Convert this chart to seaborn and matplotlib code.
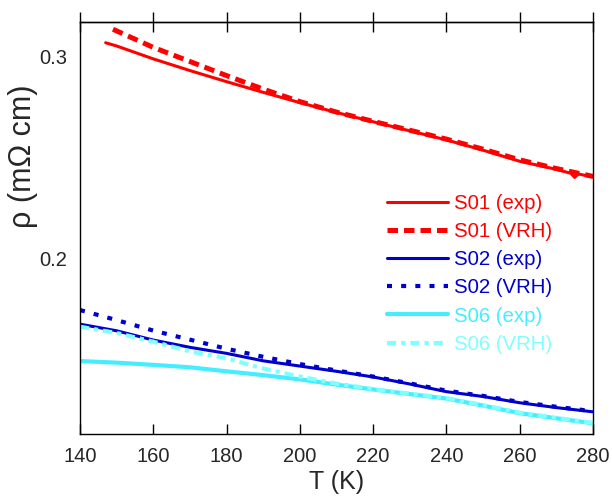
import numpy as np
import pandas as pd
import matplotlib
matplotlib.use("Agg")
import matplotlib.pyplot as plt
import seaborn as sns

# ---- data ----
T_S01_exp = [147, 150, 160, 170, 180, 190, 200, 210, 220, 230, 240, 250, 260, 270, 274, 275, 276, 280]
S01_exp = [0.3068, 0.3052, 0.2988, 0.2930, 0.2875, 0.2822, 0.2771, 0.2722, 0.2676, 0.2631,
           0.2586, 0.2535, 0.2480, 0.2440, 0.2420, 0.2400, 0.2417, 0.2402]
T_S01_vrh = [149, 160, 170, 180, 190, 200, 210, 220, 230, 240, 250, 260, 270, 280]
S01_vrh = [0.3135, 0.3045, 0.2975, 0.2905, 0.2838, 0.2776, 0.2724, 0.2678, 0.2634, 0.2590,
           0.2540, 0.2487, 0.2444, 0.2405]

T_grid = [140, 150, 160, 170, 180, 190, 200, 210, 220, 230, 240, 250, 260, 270, 280]
S02_exp = [0.1672, 0.1639, 0.1593, 0.1557, 0.1527, 0.1490, 0.1464, 0.1438, 0.1410, 0.1375,
           0.1337, 0.1313, 0.1282, 0.1258, 0.1237]
S02_vrh = [0.1742, 0.1692, 0.1640, 0.1595, 0.1550, 0.1510, 0.1474, 0.1442, 0.1412, 0.1378,
           0.1342, 0.1316, 0.1286, 0.1262, 0.1240]
S06_exp = [0.1489, 0.1481, 0.1470, 0.1458, 0.1438, 0.1419, 0.1398, 0.1372, 0.1348, 0.1325,
           0.1303, 0.1268, 0.1230, 0.1205, 0.1180]
S06_vrh = [0.1659, 0.1628, 0.1585, 0.1537, 0.1502, 0.1452, 0.1412, 0.1377, 0.1350, 0.1327,
           0.1305, 0.1270, 0.1233, 0.1207, 0.1182]

labels = ["S01 (exp)", "S01 (VRH)", "S02 (exp)", "S02 (VRH)", "S06 (exp)", "S06 (VRH)"]
x_ticks = [140, 160, 180, 200, 220, 240, 260, 280]
y_ticks = [0.2, 0.3]

sns.set_style("white")
plt.rcParams["font.family"] = ["Liberation Sans", "DejaVu Sans"]

fig = plt.figure(figsize=(6.12, 5.01), dpi=100)
ax = fig.add_axes([80 / 612, 1 - 434 / 501, 513 / 612, 412 / 501])

series = [
    (T_S01_exp, S01_exp, "#FF0000", 2.2, "-"),
    (T_S01_vrh, S01_vrh, "#FF0000", 3.6, (0, (2.1, 1.2))),
    (T_grid, S02_exp, "#0000CC", 2.2, "-"),
    (T_grid, S02_vrh, "#0000CC", 3.0, (0, (1.2, 2.2))),
    (T_grid, S06_exp, "#44EEFF", 3.0, "-"),
    (T_grid, S06_vrh, "#80FFFF", 3.0, (0, (2.2, 1.2, 1.0, 1.2))),
]
for (tx, vy, col, lw, ls), lab in zip(series, labels):
    df = pd.DataFrame({"T": tx, "rho": vy})
    sns.lineplot(data=df, x="T", y="rho", color=col, linewidth=lw, linestyle=ls,
                 label=lab, ax=ax, legend=False)

ax.set_xlim(140, 280)
ax.set_ylim(0.1127, 0.3171)
ax.set_xticks(x_ticks)
ax.set_xticklabels([str(t) for t in x_ticks])
ax.set_yticks(y_ticks)
ax.set_yticklabels(["0.2", "0.3"])

for s in ax.spines.values():
    s.set_visible(True)
    s.set_color("black")
    s.set_linewidth(1.0)

ax.tick_params(axis="x", which="major", direction="in", length=7.5, width=1.0,
               color="black", labelsize=14.5, pad=9, bottom=True, top=False)
ax.tick_params(axis="y", which="major", length=0, labelsize=14.5, pad=9.5, left=True)

# top axis ticks (inout, mirrored)
sec = ax.secondary_xaxis("top")
sec.set_xticks(x_ticks)
sec.tick_params(axis="x", direction="inout", length=15, width=1.0, color="black",
                labeltop=False)
sec.spines["top"].set_linewidth(1.0)

ax.set_xlabel("T (K)", fontsize=18, labelpad=3)
ax.set_ylabel("ρ (mΩ cm)", fontsize=22)
ax.yaxis.set_label_coords(-0.082, 0.673)

handles = ax.get_lines()
leg = ax.legend(handles=handles, labels=labels, loc="upper left",
                bbox_to_anchor=(0.598, 0.583), frameon=False, fontsize=14.7,
                handlelength=3.0, handletextpad=0.3, labelspacing=0.45,
                borderaxespad=0, borderpad=0, labelcolor="linecolor")

fig.savefig("out.png", dpi=100)
